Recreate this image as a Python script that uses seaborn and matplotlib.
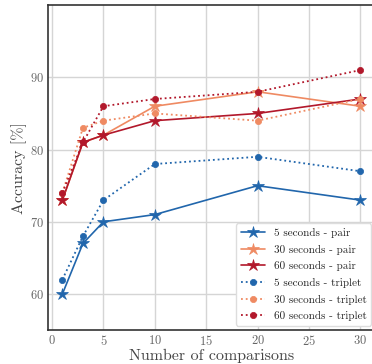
import pandas as pd
import seaborn as sns
import matplotlib.pyplot as plt

# --- Data ---
comparisons = [1, 3, 5, 10, 20, 30]

pair_5s = [60, 67, 70, 71, 75, 73]
pair_30s = [73, 81, 82, 86, 88, 86]
pair_60s = [73, 81, 82, 84, 85, 87]
triplet_5s = [62, 68, 73, 78, 79, 77]
triplet_30s = [74, 83, 84, 85, 84, 87]
triplet_60s = [74, 81, 86, 87, 88, 91]

labels = ["5 seconds - pair", "30 seconds - pair", "60 seconds - pair",
          "5 seconds - triplet", "30 seconds - triplet", "60 seconds - triplet"]
series = [pair_5s, pair_30s, pair_60s, triplet_5s, triplet_30s, triplet_60s]
# ------------

sns.set_theme(style="whitegrid")
plt.rcParams['font.family'] = ['cmr10', 'DejaVu Serif']
plt.rcParams['mathtext.fontset'] = 'cm'
plt.rcParams['axes.formatter.use_mathtext'] = True

colors = {"5": "#2166ac", "30": "#ef8a62", "60": "#b2182b"}

fig = plt.figure(figsize=(3.72, 3.64), dpi=100)
ax = fig.add_axes([0.129, 0.093, 0.881, 0.893])

for label, values in zip(labels, series):
    secs = label.split()[0]
    is_pair = label.endswith("pair")
    df = pd.DataFrame({"x": comparisons, "y": values})
    sns.lineplot(
        data=df, x="x", y="y", ax=ax,
        color=colors[secs],
        marker="*" if is_pair else "o",
        markersize=9 if is_pair else 4.5,
        markeredgewidth=0.5,
        markeredgecolor=colors[secs],
        linestyle="-" if is_pair else ":",
        linewidth=1.2 if is_pair else 1.3,
        label=label,
    )

ax.set_xlim(-0.4, 31.5)
ax.set_ylim(55, 100)
ax.set_xticks([0, 5, 10, 15, 20, 25, 30])
ax.set_yticks([60, 70, 80, 90])
ax.tick_params(labelsize=9, colors="#666666", length=0, pad=3)
ax.set_xlabel("Number of comparisons", fontsize=11.5, color="#444444", labelpad=0)
ax.set_ylabel("Accuracy [%]", fontsize=11.5, color="#444444", labelpad=2)
ax.grid(color="#d5d5d5", linewidth=1)
for side in ["left", "top", "bottom"]:
    ax.spines[side].set_color("#333333")
    ax.spines[side].set_linewidth(1.2)
ax.spines["right"].set_visible(False)

ax.legend(loc="lower right", fontsize=8, frameon=True, edgecolor="#dddddd",
          framealpha=1, borderpad=0.4, handlelength=2.2, labelspacing=0.6,
          borderaxespad=0.4)

fig.savefig("out.png", dpi=100)
